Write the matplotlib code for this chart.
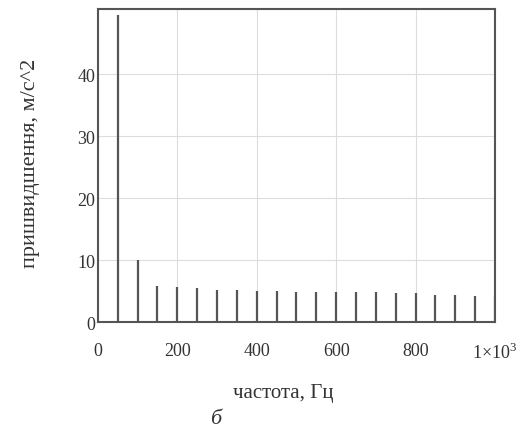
import matplotlib
matplotlib.use("Agg")
import matplotlib.pyplot as plt
from matplotlib.ticker import FixedLocator, FixedFormatter

# частоти гармонік, Гц, та амплітуди прискорення, м/с^2
freq = [50, 100, 150, 200, 250, 300, 350, 400, 450, 500,
        550, 600, 650, 700, 750, 800, 850, 900, 950, 1000]
accel = [49.5, 10.0, 5.8, 5.6, 5.5, 5.2, 5.2, 5.1, 5.0, 4.9,
         4.9, 4.9, 4.9, 4.8, 4.7, 4.7, 4.4, 4.4, 4.3, 4.2]

x_ticks = [0, 200, 400, 600, 800, 1000]
x_labels = ["0", "200", "400", "600", "800", r"1$\times$10$^3$"]
y_ticks = [0, 10, 20, 30, 40]

plt.rcParams["font.family"] = ["Liberation Serif", "DejaVu Serif"]
plt.rcParams["mathtext.fontset"] = "custom"
plt.rcParams["mathtext.rm"] = "Liberation Serif"

fig = plt.figure(figsize=(5.21, 4.35), dpi=100)
ax = fig.add_axes([0.188, 0.257, 0.762, 0.72])

ax.vlines(freq, 0, accel, colors="#555555", linewidth=1.6)

ax.set_xlim(0, 1000)
ax.set_ylim(0, 50.5)
ax.xaxis.set_major_locator(FixedLocator(x_ticks))
ax.xaxis.set_major_formatter(FixedFormatter(x_labels))
ax.set_yticks(y_ticks)
ax.grid(True, color="#dddddd", linewidth=0.8)
ax.set_axisbelow(True)
for s in ax.spines.values():
    s.set_color("#555555")
    s.set_linewidth(1.5)
ax.tick_params(axis="both", length=0, labelsize=13, colors="#333333")
ax.tick_params(axis="x", pad=14)
ax.tick_params(axis="y", pad=2)

ax.set_xlabel("частота, Гц", fontsize=15, color="#333333")
ax.xaxis.set_label_coords(0.467, -0.195)
ax.set_ylabel("пришвидшення, м/с^2", fontsize=16, color="#333333")
ax.yaxis.set_label_coords(-0.145, 0.51)
fig.text(0.413, 0.025, "б", fontsize=16, style="italic", color="#333333", ha="center")

fig.savefig("out.png", dpi=100)
